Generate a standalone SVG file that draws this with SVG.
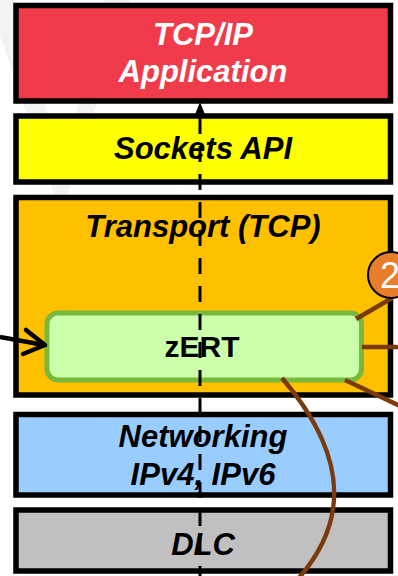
<svg xmlns="http://www.w3.org/2000/svg" width="398" height="576" viewBox="0 0 398 576">
<style>
.box{stroke:#000;stroke-width:5.5}
.lbl{font-family:"Liberation Sans",Arial,sans-serif;font-weight:bold;font-style:italic;font-size:31px;text-anchor:middle;fill:#000}
.brown{fill:none;stroke:#7B3A0E;stroke-width:4.5}
</style>
<rect width="398" height="576" fill="#fff"/>
<polygon points="-12,0 14,0 62,165 105,0 130,0 66,200 56,200" fill="#f3f3f3"/>
<g id="app">
<rect class="box" x="16" y="5.5" width="374.5" height="95.5" fill="#EF3B4A"/>
<text class="lbl" x="203" y="45" style="fill:#fff">TCP/IP</text>
<text class="lbl" x="203" y="82" style="fill:#fff">Application</text>
</g>
<g id="sockets">
<rect class="box" x="16" y="116" width="374.5" height="66" fill="#FFFF00"/>
<text class="lbl" x="203" y="159">Sockets API</text>
</g>
<g id="transport">
<rect class="box" x="16" y="197.5" width="374.5" height="197.5" fill="#FFC000"/>
<text class="lbl" x="203" y="237">Transport (TCP)</text>
</g>
<g id="networking">
<rect class="box" x="16" y="414.5" width="374.5" height="80.5" fill="#99CCFF"/>
<text class="lbl" x="203" y="447">Networking</text>
<text class="lbl" x="203" y="485">IPv4, IPv6</text>
</g>
<g id="dlc">
<rect class="box" x="16" y="510" width="374.5" height="61" fill="#C0C0C0"/>
<text class="lbl" x="203" y="555">DLC</text>
</g>
<g id="zert">
<rect x="47" y="313" width="314.5" height="67" rx="11" fill="#CCFFAA" stroke="#77B93A" stroke-width="5"/>
<text x="202" y="357" font-family="Liberation Sans,Arial,sans-serif" font-weight="bold" font-size="30" text-anchor="middle">zERT</text>
</g>
<g id="connectors">
<line x1="200" y1="576" x2="200" y2="114" stroke="#000" stroke-width="3" stroke-dasharray="16 12" stroke-dashoffset="6"/>
<path d="M200,102 L194,117 L206,117 Z" fill="#000"/>
<path d="M0,337 L44,345" fill="none" stroke="#000" stroke-width="4.5"/>
<path d="M26,330 L45,345 L23,354" fill="none" stroke="#000" stroke-width="4.5" stroke-linejoin="round" stroke-linecap="round"/>
<path class="brown" d="M356,319 L392,298"/>
<path class="brown" d="M362,347 L398,347"/>
<path class="brown" d="M345,380 L400,406"/>
<path class="brown" d="M282,378 C335,440 360,510 297,580"/>
</g>
<g id="badge">
<circle cx="391" cy="275" r="23" fill="#E87D2A" stroke="#000" stroke-width="2"/>
<text x="390" y="288" font-family="Liberation Sans,Arial,sans-serif" font-size="36" text-anchor="middle" fill="#fff">2</text>
</g>
</svg>
